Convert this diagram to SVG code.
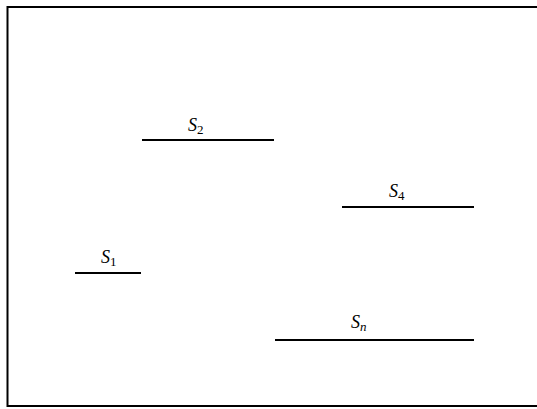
<svg xmlns="http://www.w3.org/2000/svg" width="537" height="409" viewBox="0 0 537 409">
<style>
.seg{stroke:#000;stroke-width:2;fill:none}
.lbl{font-family:"Liberation Serif","DejaVu Serif",serif;font-size:18px;fill:#000}
.s{font-style:italic}
.sub{font-size:13px}
</style>
<rect width="537" height="409" fill="#fff"/>
<path d="M540,7 H7.5 V406 H540" stroke="#000" stroke-width="2" fill="none"/>
<g id="connectors"></g>
<g id="S2"><line class="seg" x1="142" y1="140" x2="274" y2="140"/><text class="lbl" x="188" y="131"><tspan class="s">S</tspan><tspan class="sub" dy="3">2</tspan></text></g>
<g id="S4"><line class="seg" x1="342" y1="207" x2="474" y2="207"/><text class="lbl" x="389" y="197"><tspan class="s">S</tspan><tspan class="sub" dy="3">4</tspan></text></g>
<g id="S1"><line class="seg" x1="75" y1="273" x2="141" y2="273"/><text class="lbl" x="101" y="263"><tspan class="s">S</tspan><tspan class="sub" dy="3">1</tspan></text></g>
<g id="Sn"><line class="seg" x1="275" y1="340" x2="474" y2="340"/><text class="lbl" x="351" y="328"><tspan class="s">S</tspan><tspan class="sub s" dy="3">n</tspan></text></g>
</svg>
